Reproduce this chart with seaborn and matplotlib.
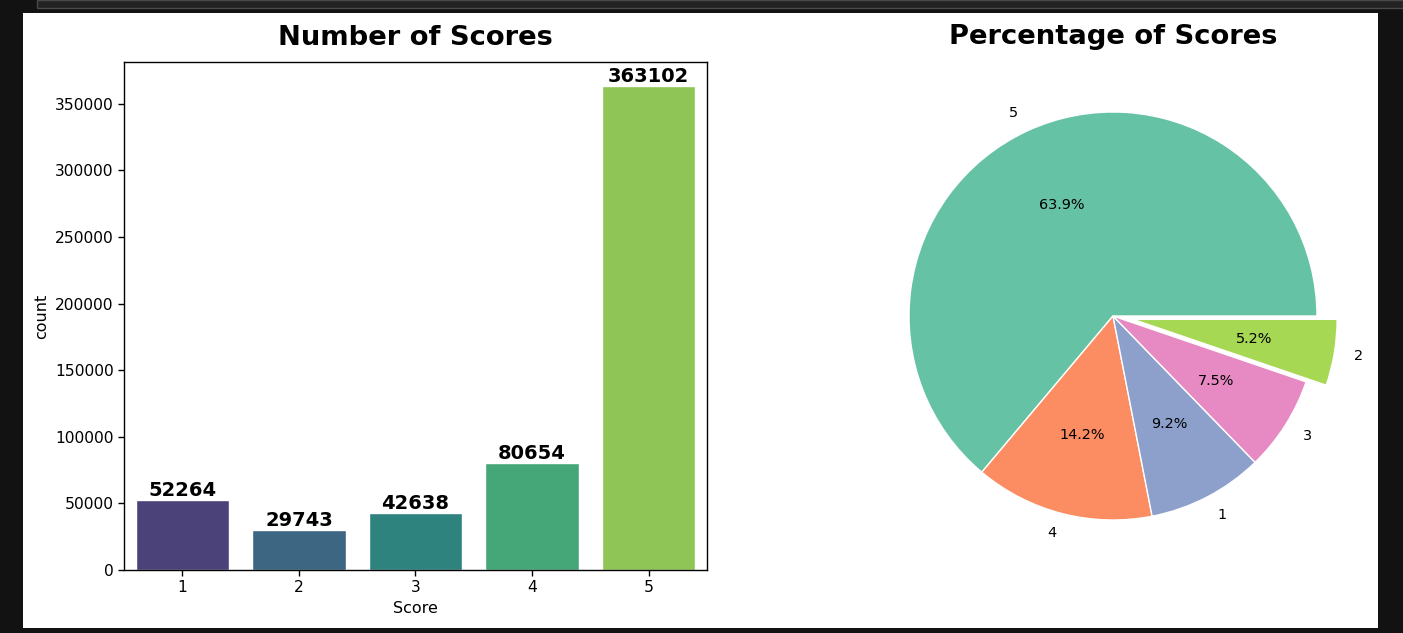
import matplotlib
matplotlib.use("Agg")
import matplotlib.pyplot as plt
from matplotlib.patches import Rectangle
import seaborn as sns
import pandas as pd

# Data
scores = ["1", "2", "3", "4", "5"]
counts = [52264, 29743, 42638, 80654, 363102]
pie_labels = ["5", "4", "1", "3", "2"]
pie_values = [363102, 80654, 52264, 42638, 29743]
explode = [0, 0, 0, 0, 0.1]

sns.set_style("white")
plt.rcParams['font.family'] = ['DejaVu Sans']
plt.rcParams.update({"text.color": "black", "axes.labelcolor": "black",
                     "xtick.color": "black", "ytick.color": "black"})

W, H = 1403, 633
fig = plt.figure(figsize=(W / 100, H / 100), dpi=100, facecolor="#121212")

# screenshot-like frame
fig.patches.append(Rectangle((23 / W, (H - 628) / H), (1378 - 23) / W, (628 - 13) / H,
                             transform=fig.transFigure, facecolor="white", edgecolor="none", zorder=-10))
fig.patches.append(Rectangle((37 / W, (H - 8) / H), (W - 37) / W, 8 / H,
                             transform=fig.transFigure, facecolor="#222222", edgecolor="#4a4a4a",
                             linewidth=1, zorder=-10))

df = pd.DataFrame({"Score": scores, "count": counts})

ax1 = fig.add_axes([124 / W, 63 / H, (707 - 124) / W, (571 - 63) / H])
ax1.set_facecolor("white")
sns.barplot(data=df, x="Score", y="count", hue="Score", palette="viridis", legend=False, ax=ax1)
for c in ax1.containers:
    ax1.bar_label(c, fontsize=14, fontweight="bold", padding=0, color="black")
ax1.set_title("Number of Scores", fontsize=19.7, fontweight="bold", pad=12, color="black")
ax1.tick_params(axis="both", labelsize=11.2, length=4, width=1, left=True, bottom=True, color="black")
ax1.set_xlabel("Score", fontsize=11.5)
ax1.set_ylabel("count", fontsize=11.5)
for s in ax1.spines.values():
    s.set_color("black")
    s.set_linewidth(1)

ax2 = fig.add_axes([858 / W, 62 / H, 510 / W, 510 / H])
ax2.pie(pie_values, labels=pie_labels, autopct="%1.1f%%", explode=explode,
        colors=sns.color_palette("Set2", 5), textprops={"fontsize": 10.4, "color": "black"})
ax2.set_title("Percentage of Scores", fontsize=19.7, fontweight="bold", pad=12, color="black")

fig.savefig("out.png", dpi=100, facecolor=fig.get_facecolor())
